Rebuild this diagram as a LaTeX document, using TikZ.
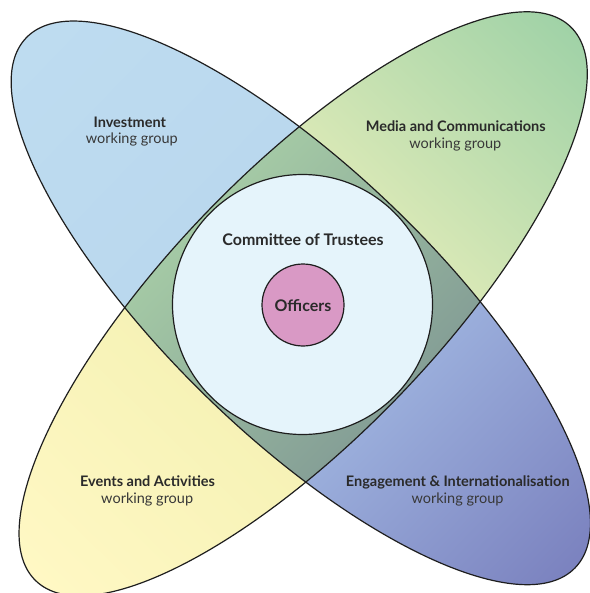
\documentclass[tikz,border=0pt]{standalone}
\usepackage{fontspec}
\setmainfont{Lato}
\definecolor{bluetip}{HTML}{BEDCF0}
\definecolor{bluemid}{HTML}{BAD8EE}
\definecolor{purpmid}{HTML}{9BAFDC}
\definecolor{purptip}{HTML}{7B82BF}
\definecolor{yelltip}{HTML}{FFF8C4}
\definecolor{yellmid}{HTML}{F6F2B6}
\definecolor{greenmid}{HTML}{D8E8B6}
\definecolor{greentip}{HTML}{A0D2A7}
\definecolor{ovlight}{HTML}{A4C9A5}
\definecolor{ovdark}{HTML}{859F96}
\definecolor{trustfill}{HTML}{E5F4FB}
\definecolor{officerfill}{HTML}{D999C5}
\definecolor{outline}{HTML}{1E1E1E}
\definecolor{txt}{HTML}{2A2A2A}
\definecolor{txtlight}{HTML}{383838}
\pgfdeclarehorizontalshading{ellA}{100bp}{color(0bp)=(bluetip); color(25bp)=(bluetip); color(42bp)=(bluemid); color(58bp)=(purpmid); color(75bp)=(purptip); color(100bp)=(purptip)}
\pgfdeclarehorizontalshading{ellB}{100bp}{color(0bp)=(yelltip); color(25bp)=(yelltip); color(42bp)=(yellmid); color(58bp)=(greenmid); color(75bp)=(greentip); color(100bp)=(greentip)}
% petal outlines: two half ellipses with different long radii
\newcommand{\petalA}{(0,133) arc[start angle=90, end angle=270, x radius=384, y radius=133] arc[start angle=-90, end angle=90, x radius=379, y radius=133] -- cycle}
\newcommand{\petalB}{(0,133) arc[start angle=90, end angle=270, x radius=384, y radius=133] arc[start angle=-90, end angle=90, x radius=386, y radius=133] -- cycle}
\tikzset{
  edge line/.style={draw=outline, line width=1.2pt},
  title/.style={font=\fontsize{14.5}{17}\selectfont\bfseries, text=txt, anchor=base, inner sep=0pt},
  subtitle/.style={font=\fontsize{14.5}{17}\selectfont, text=txtlight, anchor=base, inner sep=0pt},
  bigtitle/.style={font=\fontsize{16}{19}\selectfont\bfseries, text=txt, anchor=base, inner sep=0pt},
  disc/.style={circle, draw=outline, line width=1.2pt, inner sep=0pt},
}
\begin{document}
\begin{tikzpicture}[x=1pt, y=1pt]
\useasboundingbox (0,0) rectangle (589,-593);
% petal A (NW-SE): Investment / Engagement
\begin{scope}[transform canvas={shift={(302.5,-304.5)}, rotate=-44}]
  \shade[shading=ellA] \petalA;
\end{scope}
% petal B (SW-NE): Events / Media
\begin{scope}[transform canvas={shift={(302.5,-304.5)}, rotate=46}]
  \shade[shading=ellB] \petalB;
\end{scope}
% overlap and outlines (in frame of A; B is A's frame turned by 90 degrees)
\begin{scope}[transform canvas={shift={(302.5,-304.5)}, rotate=-44}]
  \begin{scope}
    \clip \petalA;
    \shade[left color=ovlight, right color=ovdark, rotate=90] \petalB;
  \end{scope}
  \draw[edge line] \petalA;
  \draw[edge line, rotate=90] \petalB;
\end{scope}
% circles
\node[disc, fill=trustfill, minimum size=260pt] (trustees) at (302.5,-304.5) {};
\node[disc, fill=officerfill, minimum size=82pt] (officers) at (303,-305) {};
% texts
\node[bigtitle] (trusteesLabel) at (303,-245) {Committee of Trustees};
\node[bigtitle] (officersLabel) at (303,-311) {Officers};
\node[title] (inv) at (129.8,-127.3) {Investment};
\node[subtitle] (invwg) at (131.8,-144) {working group};
\node[title] (med) at (455.7,-131.3) {Media and Communications};
\node[subtitle] (medwg) at (455.3,-148.3) {working group};
\node[title] (evt) at (147.5,-486.3) {Events and Activities};
\node[subtitle] (evtwg) at (147.2,-503) {working group};
\node[title] (eng) at (457.8,-486.3) {Engagement \& Internationalisation};
\node[subtitle] (engwg) at (457.5,-503) {working group};
\end{tikzpicture}
\end{document}
